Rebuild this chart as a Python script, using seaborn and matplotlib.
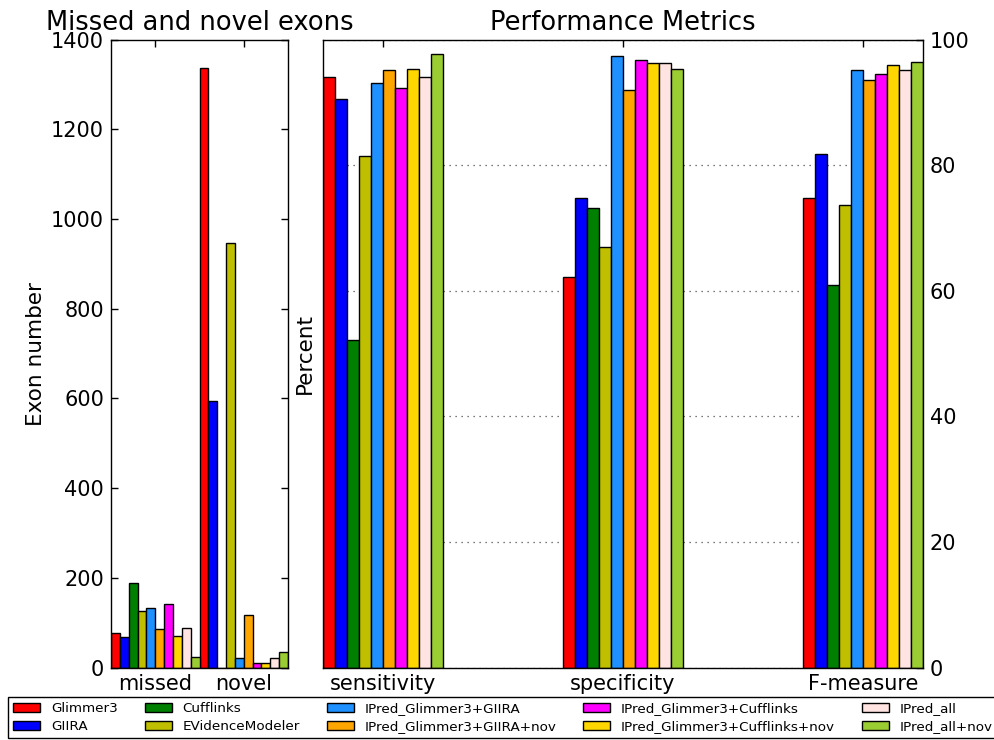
import numpy as np
import pandas as pd
import matplotlib
matplotlib.use("Agg")
import matplotlib.pyplot as plt
import seaborn as sns

# Prediction methods and their bar colours
methods = [
    "Glimmer3", "GIIRA", "Cufflinks", "EVidenceModeler",
    "IPred_Glimmer3+GIIRA", "IPred_Glimmer3+GIIRA+nov",
    "IPred_Glimmer3+Cufflinks", "IPred_Glimmer3+Cufflinks+nov",
    "IPred_all", "IPred_all+nov",
]
colors = ["#ff0000", "#0000ff", "#008000", "#bfbf00", "#1e90ff",
          "#ffa500", "#ff00ff", "#ffd700", "#ffe4e1", "#9acd32"]

# Missed / novel exon counts
exon_categories = ["missed", "novel"]
missed_exons = [77, 67, 188, 126, 132, 86, 141, 71, 87, 23]
novel_exons = [1336, 595, 0, 946, 21, 118, 11, 11, 21, 34]

# Performance metrics (percent)
metric_categories = ["sensitivity", "specificity", "F-measure"]
sensitivity = [94.1, 90.5, 52.2, 81.5, 93.0, 95.1, 92.3, 95.3, 94.0, 97.7]
specificity = [62.2, 74.7, 73.2, 67.0, 97.3, 91.9, 96.7, 96.3, 96.2, 95.3]
f_measure = [74.8, 81.8, 60.9, 73.6, 95.1, 93.5, 94.5, 95.9, 95.1, 96.4]

exon_ticks = [0, 200, 400, 600, 800, 1000, 1200, 1400]
percent_ticks = [0, 20, 40, 60, 80, 100]

sns.set_style("white")
plt.rcParams["font.family"] = ["DejaVu Sans"]
plt.rcParams.update({
    "text.color": "black",
    "axes.labelcolor": "black",
    "xtick.color": "black",
    "ytick.color": "black",
    "axes.edgecolor": "black",
})

exon_df = pd.DataFrame({
    "category": np.repeat(exon_categories, len(methods)),
    "method": methods * len(exon_categories),
    "count": missed_exons + novel_exons,
})
metric_df = pd.DataFrame({
    "category": np.repeat(metric_categories, len(methods)),
    "method": methods * len(metric_categories),
    "percent": sensitivity + specificity + f_measure,
})

fig = plt.figure(figsize=(9.95, 7.40), dpi=100)
ax1 = fig.add_axes([111 / 995, 72.5 / 740, 177 / 995, 628 / 740])
ax2 = fig.add_axes([323 / 995, 72.5 / 740, 600 / 995, 628 / 740])

bar_kw = dict(hue="method", hue_order=methods, palette=colors,
              edgecolor="black", linewidth=1.0, errorbar=None, saturation=1)

sns.barplot(data=exon_df, x="category", y="count", order=exon_categories,
            width=1.0, ax=ax1, legend=True, **bar_kw)
sns.barplot(data=metric_df, x="category", y="percent", order=metric_categories,
            width=0.5, ax=ax2, legend=False, **bar_kw)

handles, labels = ax1.get_legend_handles_labels()
ax1.get_legend().remove()

tick_fs = 15
label_fs = 15.5
title_fs = 18.5

for ax in (ax1, ax2):
    ax.set_facecolor("white")
    for sp in ax.spines.values():
        sp.set_visible(True)
        sp.set_color("black")
        sp.set_linewidth(1.0)
    ax.set_xlabel("")

# Left panel: exon counts
ax1.set_xlim(-0.5, 1.5)
ax1.set_ylim(0, 1400)
ax1.set_yticks(exon_ticks)
ax1.set_ylabel("Exon number", fontsize=label_fs, labelpad=4)
ax1.set_title("Missed and novel exons", fontsize=title_fs, pad=7)
ax1.tick_params(axis="both", direction="in", length=5, width=1, color="black",
                labelcolor="black", labelsize=tick_fs, pad=5, top=True,
                bottom=True, left=True, right=True)

# Right panel: performance metrics
ax2.set_xlim(-0.25, 2.25)
ax2.set_ylim(0, 100)
ax2.set_yticks(percent_ticks)
ax2.yaxis.tick_right()
ax2.yaxis.set_label_position("left")
ax2.set_ylabel("Percent", fontsize=label_fs, labelpad=6)
ax2.set_title("Performance Metrics", fontsize=title_fs, pad=7)
ax2.set_axisbelow(True)
ax2.yaxis.grid(True, linestyle=(0, (1, 3.8)), color="0.3", linewidth=0.9)
ax2.xaxis.grid(False)
ax2.tick_params(axis="both", direction="in", length=5, width=1, color="black",
                labelcolor="black", labelsize=tick_fs, pad=5, top=True,
                bottom=True)
ax2.tick_params(axis="y", left=False, right=True, labelleft=False,
                labelright=True)

leg = fig.legend(handles, labels, loc="upper left",
                 bbox_to_anchor=(8 / 995, 1 - 697 / 740), ncol=5,
                 fontsize=9.7, frameon=True, fancybox=False,
                 edgecolor="black", framealpha=1, borderaxespad=0,
                 labelspacing=0.35, columnspacing=2.0, handletextpad=0.8)
leg.get_frame().set_linewidth(1.0)
for t in leg.get_texts():
    t.set_color("black")

fig.savefig("out.png", dpi=100, facecolor="white")
